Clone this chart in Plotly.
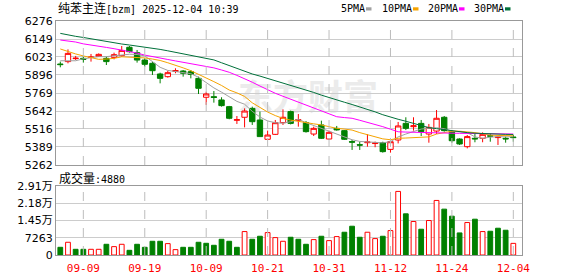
import plotly.graph_objects as go

# ---------------- data ----------------
dates = ["09-04", "09-05", "09-08", "09-09", "09-10", "09-11", "09-12", "09-15", "09-16", "09-17",
         "09-18", "09-19", "09-22", "09-23", "09-24", "09-25", "09-26", "09-29", "09-30", "10-09",
         "10-10", "10-13", "10-14", "10-15", "10-16", "10-17", "10-20", "10-21", "10-22", "10-23",
         "10-24", "10-27", "10-28", "10-29", "10-30", "10-31", "11-03", "11-04", "11-05", "11-06",
         "11-07", "11-10", "11-11", "11-12", "11-13", "11-14", "11-17", "11-18", "11-19", "11-20",
         "11-21", "11-24", "11-25", "11-26", "11-27", "11-28", "12-01", "12-02", "12-03", "12-04"]

opens = [5973, 5990, 6011, 6013, 6019, 6027, 6013, 6020, 6032, 6091,
         6053, 6001, 5978, 5903, 5884, 5921, 5924, 5919, 5872, 5739,
         5743, 5720, 5673, 5577, 5598, 5661, 5579, 5443, 5478, 5560,
         5638, 5577, 5560, 5480, 5544, 5445, 5520, 5504, 5427, 5405,
         5419, 5413, 5419, 5372, 5438, 5555, 5532, 5555, 5480, 5501,
         5598, 5497, 5445, 5391, 5450, 5450, 5468, 5455, 5450, 5459]
highs = [5990, 6076, 6030, 6030, 6044, 6048, 6025, 6053, 6100, 6100,
         6072, 6013, 5990, 5912, 5926, 5943, 5931, 5931, 5884, 5778,
         5783, 5739, 5678, 5607, 5661, 5673, 5638, 5504, 5579, 5654,
         5645, 5621, 5572, 5532, 5574, 5504, 5537, 5509, 5438, 5427,
         5480, 5427, 5426, 5443, 5565, 5598, 5598, 5579, 5551, 5649,
         5607, 5509, 5450, 5473, 5480, 5492, 5485, 5466, 5462, 5473]
lows = [5950, 5978, 6001, 5983, 5990, 6023, 5966, 6006, 6025, 6053,
        5983, 5954, 5896, 5837, 5877, 5908, 5884, 5872, 5762, 5685,
        5701, 5673, 5584, 5551, 5527, 5544, 5462, 5438, 5473, 5544,
        5548, 5532, 5490, 5466, 5445, 5438, 5504, 5438, 5368, 5368,
        5391, 5387, 5349, 5349, 5414, 5508, 5504, 5466, 5419, 5480,
        5497, 5419, 5403, 5379, 5422, 5422, 5426, 5403, 5419, 5426]
closes = [5969, 6048, 6014, 6006, 6022, 6041, 5990, 6039, 6069, 6060,
          6001, 5971, 5926, 5872, 5912, 5927, 5908, 5900, 5802, 5762,
          5738, 5680, 5591, 5581, 5642, 5567, 5462, 5473, 5560, 5598,
          5555, 5581, 5497, 5520, 5450, 5492, 5509, 5443, 5423, 5402,
          5424, 5417, 5356, 5426, 5537, 5520, 5538, 5497, 5527, 5591,
          5504, 5433, 5410, 5462, 5446, 5478, 5465, 5458, 5446, 5455]

ma5 = [5996, 5996, 5996, 6010, 6018, 6025, 6025, 6030, 6036, 6042,
       6040, 6030, 5990, 5950, 5928, 5920, 5916, 5905, 5880, 5840,
       5805, 5775, 5745, 5710, 5690, 5640, 5600, 5572, 5560, 5556,
       5567, 5584, 5560, 5540, 5525, 5500, 5480, 5460, 5440, 5428,
       5424, 5420, 5418, 5426, 5460, 5480, 5496, 5515, 5522, 5524,
       5518, 5500, 5496, 5490, 5460, 5450, 5458, 5462, 5460, 5461]
ma10 = [6079, 6060, 6044, 6030, 6016, 6006, 6008, 6013, 6024, 6023,
        6020, 6016, 6008, 5998, 5982, 5966, 5946, 5926, 5902, 5876,
        5849, 5822, 5790, 5770, 5745, 5700, 5665, 5635, 5610, 5590,
        5578, 5568, 5560, 5552, 5544, 5530, 5520, 5515, 5508, 5490,
        5474, 5460, 5446, 5440, 5450, 5452, 5454, 5454, 5460, 5480,
        5492, 5500, 5500, 5496, 5490, 5482, 5473, 5470, 5468, 5468]
ma20 = [6142, 6135, 6128, 6115, 6108, 6100, 6090, 6081, 6072, 6063,
        6050, 6036, 6024, 6014, 6005, 5995, 5985, 5976, 5968, 5957,
        5946, 5931, 5915, 5893, 5870, 5845, 5818, 5792, 5767, 5746,
        5726, 5705, 5684, 5663, 5643, 5622, 5602, 5596, 5591, 5577,
        5563, 5548, 5532, 5514, 5496, 5494, 5492, 5490, 5489, 5488,
        5487, 5486, 5485, 5485, 5485, 5484, 5484, 5483, 5482, 5480]
ma30 = [6189, 6176, 6168, 6160, 6150, 6140, 6130, 6122, 6114, 6107,
        6100, 6094, 6086, 6076, 6066, 6055, 6044, 6034, 6024, 6012,
        6002, 5982, 5962, 5940, 5918, 5903, 5888, 5872, 5856, 5840,
        5824, 5808, 5791, 5773, 5754, 5736, 5720, 5704, 5688, 5672,
        5655, 5636, 5616, 5598, 5584, 5570, 5556, 5540, 5525, 5518,
        5510, 5502, 5495, 5490, 5486, 5483, 5480, 5479, 5478, 5477]

volumes = [3227, 5332, 2385, 2385, 2385, 2385, 4490, 3508, 4490, 1964,
           4490, 3227, 5752, 5752, 4770, 2245, 3227, 3227, 5332, 4911,
           4069, 6594, 5752, 3227, 9821, 6594, 7857, 9400, 7296, 5752,
           7436, 6594, 4490, 6454, 7857, 6033, 7717, 9540, 12066, 7436,
           9540, 6875, 7857, 10242, 26657, 17257, 14030, 10803, 14451, 22869,
           19221, 16275, 9260, 13609, 15012, 9821, 9961, 11224, 10382, 4880]
vol_up = [0, 1, 0, 0, 1, 1, 0, 1, 1, 0,
          0, 0, 0, 0, 1, 1, 0, 0, 0, 0,
          0, 0, 0, 0, 1, 0, 0, 1, 1, 1,
          0, 0, 0, 1, 0, 1, 1, 0, 0, 0,
          1, 1, 0, 1, 1, 0, 1, 0, 1, 1,
          0, 0, 0, 1, 0, 1, 0, 0, 0, 1]

price_ticks = [6276, 6149, 6023, 5896, 5769, 5642, 5516, 5389, 5262]
vol_ticks = [0, 7263, 14526, 21789, 29052]
vol_ticktext = ["0", "7263", "1.45万", "2.18万", "2.91万"]
date_ticks = ["09-09", "09-19", "10-09", "10-21", "10-31", "11-12", "11-24", "12-04"]
ma_names = ["5PMA", "10PMA", "20PMA", "30PMA"]
title_name = "纯苯主连"
title_rest = "[bzm] 2025-12-04 10:39"
volume_label = "成交量"
watermark = "东方财富"

# ---------------- style ----------------
RED = "#ff0000"
GREEN = "#008000"
ma_colors = ["#a0a0a0", "#f5a300", "#ff00ff", "#00703a"]
W, H = 578, 276
ML, MR, MT, MB = 56, 56, 21, 21
PW, PH = W - ML - MR, H - MT - MB


def px(x):
    return (x - ML) / PW


def py(y):
    return (H - MB - y) / PH


NUM_FONT = dict(family="DejaVu Sans, Noto Sans CJK SC", size=11, color="#000000")
MONO = "DejaVu Sans Mono, Noto Sans CJK SC"

xi = list(range(len(dates)))               # position of each trading day on the axis
tick_pos = [dates.index(d) for d in date_ticks]
price_dom = [py(165), 1]
vol_dom = [0, py(185.7)]

fig = go.Figure()
fig.add_trace(go.Candlestick(
    x=xi, open=opens, high=highs, low=lows, close=closes,
    xaxis="x", yaxis="y", whiskerwidth=0,
    increasing=dict(line=dict(color=RED, width=1), fillcolor="#ffffff"),
    decreasing=dict(line=dict(color=GREEN, width=1), fillcolor=GREEN),
    showlegend=False, hoverinfo="skip"))
for name, vals, col in zip(ma_names, [ma5, ma10, ma20, ma30], ma_colors):
    fig.add_trace(go.Scatter(x=xi, y=vals, mode="lines", name=name,
                             line=dict(color=col, width=1), xaxis="x", yaxis="y",
                             showlegend=False, hoverinfo="skip"))

fig.add_trace(go.Bar(
    x=xi, y=volumes, xaxis="x2", yaxis="y2", width=0.62,
    marker=dict(color=["#ffffff" if u else GREEN for u in vol_up],
                line=dict(color=[RED if u else GREEN for u in vol_up], width=1)),
    showlegend=False, hoverinfo="skip"))

xr = [-0.56, 60.13]
common_x = dict(type="linear", range=xr, tickmode="array", tickvals=tick_pos, ticktext=date_ticks,
                showgrid=False, showline=True, mirror=True, linecolor="#999999", linewidth=1,
                ticks="", automargin=False, zeroline=False, fixedrange=True)
common_y = dict(showgrid=True, gridcolor="#cccccc", gridwidth=1, zeroline=False,
                showline=True, mirror=True, linecolor="#999999", ticks="",
                automargin=False, tickfont=NUM_FONT, fixedrange=True)
fig.update_layout(
    template="none",
    width=W, height=H, margin=dict(l=ML, r=MR, t=MT, b=MB, pad=0, autoexpand=False),
    paper_bgcolor="#ffffff", plot_bgcolor="#ffffff", showlegend=False,
    boxgap=0.3, boxgroupgap=0.0,
    xaxis=dict(common_x, domain=[0, 1], anchor="y", showticklabels=False,
               rangeslider=dict(visible=False)),
    xaxis2=dict(common_x, domain=[0, 1], anchor="y2", matches="x", showticklabels=True,
                ticklabelstandoff=3,
                tickfont=dict(family=MONO, size=11, color=RED)),
    yaxis=dict(common_y, domain=price_dom, range=[5262, 6276], tickvals=price_ticks),
    yaxis2=dict(common_y, domain=vol_dom, range=[0, 29052], tickvals=vol_ticks,
                ticktext=vol_ticktext),
)

annotations = [
    dict(text='<span style="font-size:12px">' + title_name + "</span>" + title_rest,
         x=px(56), y=py(8.5), xref="paper", yref="paper", xanchor="left", yanchor="middle",
         showarrow=False, font=dict(family=MONO, size=10, color="#000000")),
    dict(text='<span style="font-size:12px">' + volume_label + "</span>:" + str(volumes[-1]),
         x=px(57), y=py(178), xref="paper", yref="paper", xanchor="left", yanchor="middle",
         showarrow=False, font=dict(family=MONO, size=10, color="#000000")),
]
shapes = [
    dict(type="rect", xref="paper", yref="paper", x0=px(236), x1=px(380), y0=py(116), y1=py(84),
         line=dict(width=0), fillcolor="rgba(0,0,0,0)", layer="below",
         label=dict(text=watermark, font=dict(family="Noto Sans CJK SC", size=35,
                                               color="#ebebeb", weight="bold"),
                    textposition="middle center")),
]
# dashed vertical grid lines at the date ticks, in both panels
for tp in tick_pos:
    for xref, yref in (("x", "y domain"), ("x2", "y2 domain")):
        shapes.append(dict(type="line", xref=xref, yref=yref, x0=tp, x1=tp,
                           y0=0, y1=1, layer="above",
                           line=dict(color="#bdbdbd", width=1, dash="dash")))
legend_x = [339, 380, 426, 472]
square_x = [366, 413, 459, 505]
for name, col, lx, sx in zip(ma_names, ma_colors, legend_x, square_x):
    annotations.append(dict(text=name, x=px(lx), y=py(9), xref="paper", yref="paper",
                            xanchor="left", yanchor="middle", showarrow=False,
                            font=dict(family=MONO, size=10, color="#000000")))
    shapes.append(dict(type="rect", xref="paper", yref="paper", x0=px(sx), x1=px(sx + 5.5),
                       y0=py(10.5), y1=py(7.3), fillcolor=col, line=dict(width=0)))
fig.update_layout(annotations=annotations, shapes=shapes)

fig.write_html("out.html", config={"displayModeBar": False})
